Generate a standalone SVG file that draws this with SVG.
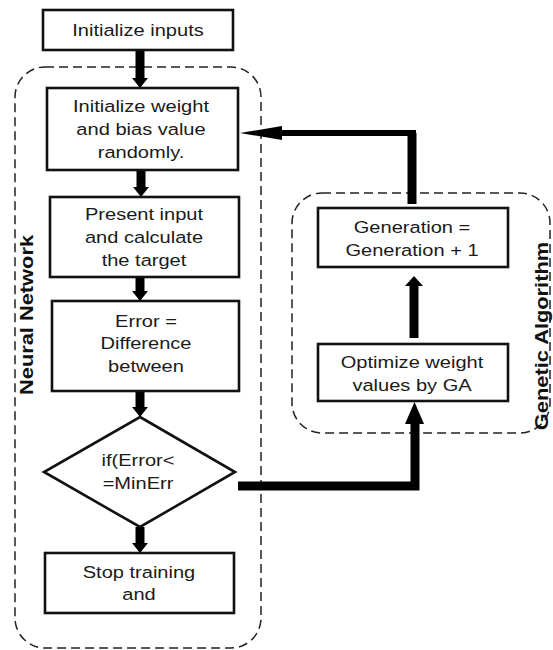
<svg xmlns="http://www.w3.org/2000/svg" width="553" height="650" viewBox="0 0 553 650">
<style>
.box{fill:#fff;stroke:#111;stroke-width:2.6}
.region{fill:none;stroke:#222;stroke-width:1.5;stroke-dasharray:9 5}
.t{font-family:"Liberation Sans",Arial,sans-serif;font-size:17px;fill:#1a1a1a;text-anchor:middle}
.lbl{font-family:"Liberation Sans",Arial,sans-serif;font-size:18.5px;font-weight:bold;fill:#111;text-anchor:middle}
.shaft{fill:none;stroke:#000;stroke-width:9;stroke-linejoin:miter}
.head{fill:#000}
</style>
<rect width="553" height="650" fill="#fff"/>
<g id="nn-region">
<rect class="region" x="15" y="67" width="246" height="581" rx="30" ry="30"/>
<text class="lbl" transform="translate(33,315) rotate(-90) scale(1.18,1)" x="0" y="0">Neural Network</text>
</g>
<g id="ga-region">
<rect class="region" x="292" y="193" width="258" height="240" rx="30" ry="30"/>
<text class="lbl" transform="translate(548,336) rotate(-90) scale(1.18,1)" x="0" y="0">Genetic Algorithm</text>
</g>
<g id="connectors">
<path class="shaft" d="M140 50V80"/><polygon class="head" points="132,78 148,78 140,88"/>
<path class="shaft" d="M141 170V189"/><polygon class="head" points="133,187 149,187 141,197"/>
<path class="shaft" d="M140 277V293"/><polygon class="head" points="132,291 148,291 140,301"/>
<path class="shaft" d="M140 391V409"/><polygon class="head" points="132,407 148,407 140,417"/>
<path class="shaft" d="M140 527V545"/><polygon class="head" points="132,543 148,543 140,553"/>
<path class="shaft" d="M414 338V283"/><polygon class="head" points="405,286 423,286 414,276"/>
<path class="shaft" d="M238 486H415V421"/><polygon class="head" points="405,424 424,424 414.5,402"/>
<path class="shaft" d="M412 204V133"/>
<path fill="none" stroke="#000" stroke-width="6" d="M416 133H280"/>
<polygon class="head" points="282,126 282,140 240,133"/>
</g>
<g id="n1">
<rect class="box" x="43" y="10" width="190" height="40"/>
<g transform="translate(138,0) scale(1.18,1)"><text class="t" x="0" y="36">Initialize inputs</text></g>
</g>
<g id="n2">
<rect class="box" x="47" y="88" width="191" height="82"/>
<g transform="translate(141,0) scale(1.18,1)"><text class="t" x="0" y="112">Initialize weight</text><text class="t" x="0" y="135">and bias value</text><text class="t" x="0" y="158">randomly.</text></g>
</g>
<g id="n3">
<rect class="box" x="50" y="197" width="189" height="80"/>
<g transform="translate(144,0) scale(1.18,1)"><text class="t" x="0" y="220">Present input</text><text class="t" x="0" y="243">and calculate</text><text class="t" x="0" y="266">the target</text></g>
</g>
<g id="n4">
<rect class="box" x="52" y="301" width="187" height="90"/>
<g transform="translate(146,0) scale(1.18,1)"><text class="t" x="0" y="327">Error =</text><text class="t" x="0" y="349">Difference</text><text class="t" x="0" y="372">between</text></g>
</g>
<g id="n5">
<polygon class="box" points="140,417 235,472 140,527 44,472"/>
<g transform="translate(138,0) scale(1.18,1)"><text class="t" x="0" y="466">if(Error&lt;</text><text class="t" x="0" y="489">=MinErr</text></g>
</g>
<g id="n6">
<rect class="box" x="45" y="553" width="189" height="60"/>
<g transform="translate(139,0) scale(1.18,1)"><text class="t" x="0" y="578">Stop training</text><text class="t" x="0" y="600">and</text></g>
</g>
<g id="n7">
<rect class="box" x="318" y="208" width="190" height="59"/>
<g transform="translate(412,0) scale(1.18,1)"><text class="t" x="0" y="233">Generation =</text><text class="t" x="0" y="256">Generation + 1</text></g>
</g>
<g id="n8">
<rect class="box" x="318" y="344" width="190" height="57"/>
<g transform="translate(412,0) scale(1.18,1)"><text class="t" x="0" y="368">Optimize weight</text><text class="t" x="0" y="391">values by GA</text></g>
</g>
</svg>
